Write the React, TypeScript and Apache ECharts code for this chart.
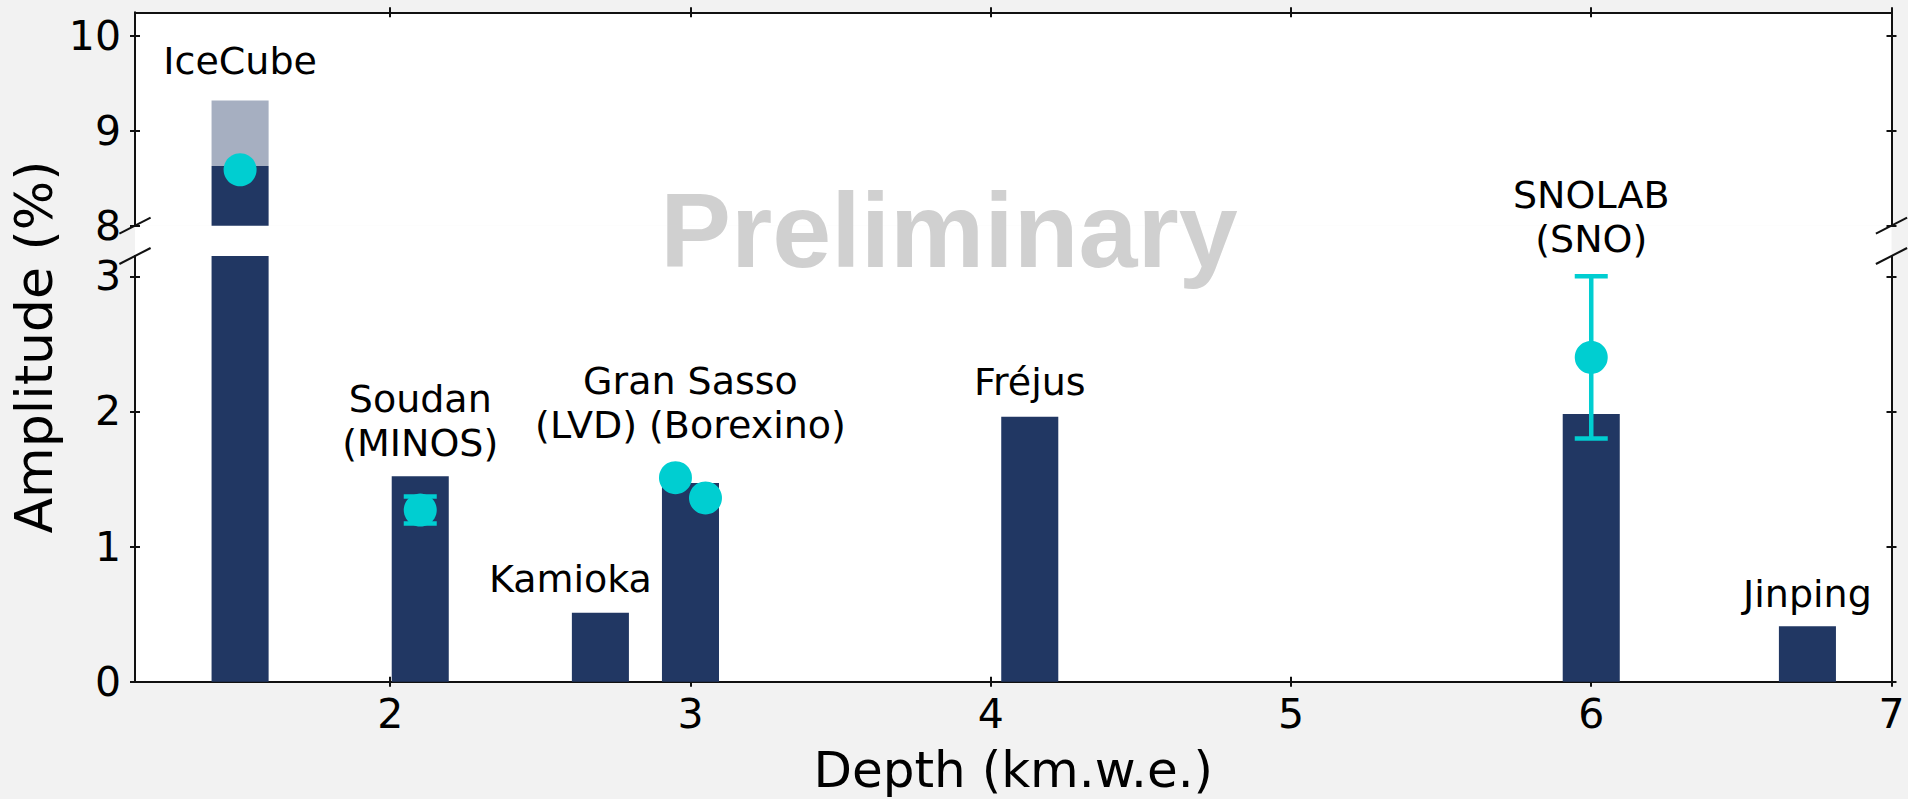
import React, { useEffect, useRef } from "react";
import * as echarts from "echarts";

// ---------- data ----------
const siteLabels = [
  "IceCube",
  "Soudan\n(MINOS)",
  "Kamioka",
  "Gran Sasso\n(LVD) (Borexino)",
  "Fréjus",
  "SNOLAB\n(SNO)",
  "Jinping",
];
const barDepths = [1.5, 2.1, 2.7, 3.0, 4.13, 6.0, 6.72];
const barAmplitudes = [8.63, 1.52, 0.51, 1.47, 1.96, 1.98, 0.41];

// IceCube uncertainty band (lighter part of bar)
const bandDepths = [1.5];
const bandLow = [8.63];
const bandHigh = [9.32];

// measured points
const pointDepths = [1.5, 2.1, 2.95, 3.05, 6.0];
const pointValues = [8.59, 1.27, 1.51, 1.36, 2.4];
const pointErrors = [0, 0.1, 0, 0, 0.6];

// label anchors (data coords, centre of text block)
const labelDepths = [1.5, 2.1, 2.6, 3.0, 4.13, 6.0, 6.72];
const labelHeights = [9.74, 1.93, 0.76, 2.06, 2.22, 3.44, 0.65];

const xTicks = [2, 3, 4, 5, 6, 7];
const yTicksTop = [8, 9, 10];
const yTicksBottom = [0, 1, 2, 3];
const X_MIN = 1.15;
const X_MAX = 7;
const TOP_MIN = 8;
const TOP_MAX = 10.25;
const BOT_MIN = 0;
const BOT_MAX = 3.15;

// ---------- layout / style ----------
const PL = 135;
const PR = 1891.5;
const TOP_T = 12.3;
const TOP_B = 225.7;
const BOT_T = 256;
const BOT_B = 681.7;
const BAR_W = 0.19;
const NAVY = "#213763";
const CYAN = "#00CED1";
const FONT = "DejaVu Sans";

function barRender(fill: string) {
  return (params: any, api: any) => {
    const x = api.value(0);
    const lo = api.value(1);
    const hi = api.value(2);
    const a = api.coord([x - BAR_W / 2, hi]);
    const b = api.coord([x + BAR_W / 2, lo]);
    const cs = params.coordSys;
    const rect = echarts.graphic.clipRectByRect(
      { x: a[0], y: a[1], width: b[0] - a[0], height: b[1] - a[1] },
      { x: cs.x, y: cs.y, width: cs.width, height: cs.height }
    );
    if (!rect) return null;
    return { type: "rect", shape: rect, style: { fill } };
  };
}

function errRender(params: any, api: any) {
  const x = api.value(0);
  const y = api.value(1);
  const e = api.value(2);
  const top = api.coord([x, y + e]);
  const bot = api.coord([x, y - e]);
  const half = 16.5;
  const st = { stroke: CYAN, lineWidth: 4.5 };
  return {
    type: "group",
    children: [
      { type: "line", shape: { x1: top[0], y1: top[1], x2: bot[0], y2: bot[1] }, style: st },
      { type: "line", shape: { x1: top[0] - half, y1: top[1], x2: top[0] + half, y2: top[1] }, style: st },
      { type: "line", shape: { x1: bot[0] - half, y1: bot[1], x2: bot[0] + half, y2: bot[1] }, style: st },
    ],
  };
}

function labelRender(params: any, api: any) {
  const p = api.coord([api.value(0), api.value(1)]);
  const idx = api.value(2);
  return {
    type: "text",
    x: p[0],
    y: p[1],
    style: {
      text: siteLabels[idx],
      fill: "#000",
      fontSize: 38,
      fontFamily: FONT,
      align: "center",
      verticalAlign: "middle",
      lineHeight: 44,
    },
  };
}

const tickStyle = { color: "#111", width: 2 };

function xAxes(gridIndex: number, position: "top" | "bottom", labels: boolean) {
  const common = {
    type: "value",
    gridIndex,
    position,
    min: X_MIN,
    max: X_MAX,
    splitLine: { show: false },
  };
  return [
    {
      ...common,
      axisLine: { show: true, onZero: false, lineStyle: { color: "#111", width: 2 } },
      axisTick: { show: true, inside: false, length: 5, customValues: xTicks, lineStyle: tickStyle },
      axisLabel: labels
        ? { show: true, customValues: xTicks, fontSize: 41, fontFamily: FONT, color: "#000", margin: 12 }
        : { show: false },
    },
    {
      ...common,
      axisLine: { show: false, onZero: false },
      axisTick: { show: true, inside: true, length: 5, customValues: xTicks, lineStyle: tickStyle },
      axisLabel: { show: false },
    },
  ];
}

function yAxes(gridIndex: number, min: number, max: number, ticks: number[]) {
  const common = {
    type: "value",
    gridIndex,
    min,
    max,
    splitLine: { show: false },
  };
  const tick = (inside: boolean) => ({ show: true, inside, length: 5, customValues: ticks, lineStyle: tickStyle });
  const line = { show: true, onZero: false, lineStyle: { color: "#111", width: 2 } };
  return [
    {
      ...common,
      position: "left",
      axisLine: line,
      axisTick: tick(false),
      axisLabel: { show: true, customValues: ticks, fontSize: 41, fontFamily: FONT, color: "#000", margin: 14 },
    },
    { ...common, position: "left", axisLine: { show: false }, axisTick: tick(true), axisLabel: { show: false } },
    { ...common, position: "right", axisLine: line, axisTick: tick(false), axisLabel: { show: false } },
    { ...common, position: "right", axisLine: { show: false }, axisTick: tick(true), axisLabel: { show: false } },
  ];
}

function breakLines() {
  const els: any[] = [];
  [PL, PR].forEach((x) => {
    [TOP_B, BOT_T].forEach((y) => {
      els.push({
        type: "line",
        z: 100,
        shape: { x1: x - 15.6, y1: y + 8, x2: x + 15.6, y2: y - 8 },
        style: { stroke: "#111", lineWidth: 2 },
      });
    });
  });
  return els;
}

export default function App() {
  const ref = useRef<HTMLDivElement>(null);

  useEffect(() => {
    const chart = echarts.init(ref.current!, null, { renderer: "svg" });

    const barData = barDepths.map((d, i) => [d, 0, barAmplitudes[i]]);
    const bandData = bandDepths.map((d, i) => [d, bandLow[i], bandHigh[i]]);
    const topPts = pointDepths.map((d, i) => [d, pointValues[i]]).filter((p) => p[1] >= TOP_MIN);
    const botPts = pointDepths.map((d, i) => [d, pointValues[i]]).filter((p) => p[1] < TOP_MIN);
    const errData = pointDepths
      .map((d, i) => [d, pointValues[i], pointErrors[i]])
      .filter((p) => p[2] > 0);
    const topLabels = labelDepths.map((d, i) => [d, labelHeights[i], i]).filter((p) => p[1] >= TOP_MIN);
    const botLabels = labelDepths.map((d, i) => [d, labelHeights[i], i]).filter((p) => p[1] < TOP_MIN);

    const option: any = {
      animation: false,
      backgroundColor: "#f2f2f2",
      grid: [
        { left: PL, top: TOP_T, width: PR - PL, height: TOP_B - TOP_T, show: true, backgroundColor: "#fff", borderWidth: 0, containLabel: false, outerBoundsMode: "none" },
        { left: PL, top: BOT_T, width: PR - PL, height: BOT_B - BOT_T, show: true, backgroundColor: "#fff", borderWidth: 0, containLabel: false, outerBoundsMode: "none" },
      ],
      xAxis: [...xAxes(0, "top", false), ...xAxes(1, "bottom", true)],
      yAxis: [...yAxes(0, TOP_MIN, TOP_MAX, yTicksTop), ...yAxes(1, BOT_MIN, BOT_MAX, yTicksBottom)],
      series: [
        // top panel
        { type: "custom", xAxisIndex: 0, yAxisIndex: 0, renderItem: barRender(NAVY), data: barData, encode: { x: 0, y: [1, 2] }, z: 2 },
        { type: "custom", xAxisIndex: 0, yAxisIndex: 0, renderItem: barRender("rgba(33,55,99,0.4)"), data: bandData, encode: { x: 0, y: [1, 2] }, z: 2 },
        { type: "custom", xAxisIndex: 0, yAxisIndex: 0, renderItem: errRender, data: errData.filter((p) => p[1] >= TOP_MIN), encode: { x: 0, y: 1 }, z: 3 },
        { type: "scatter", xAxisIndex: 0, yAxisIndex: 0, data: topPts, symbolSize: 33, itemStyle: { color: CYAN, opacity: 1 }, z: 4 },
        { type: "custom", xAxisIndex: 0, yAxisIndex: 0, renderItem: labelRender, data: topLabels, encode: { x: 0, y: 1 }, z: 5 },
        // bottom panel
        { type: "custom", xAxisIndex: 2, yAxisIndex: 4, renderItem: barRender(NAVY), data: barData, encode: { x: 0, y: [1, 2] }, z: 2 },
        { type: "custom", xAxisIndex: 2, yAxisIndex: 4, renderItem: errRender, data: errData.filter((p) => p[1] < TOP_MIN), encode: { x: 0, y: 1 }, z: 3 },
        { type: "scatter", xAxisIndex: 2, yAxisIndex: 4, data: botPts, symbolSize: 33, itemStyle: { color: CYAN, opacity: 1 }, z: 4 },
        { type: "custom", xAxisIndex: 2, yAxisIndex: 4, renderItem: labelRender, data: botLabels, encode: { x: 0, y: 1 }, z: 5 },
      ],
      graphic: [
        { type: "rect", z: -1, shape: { x: PL, y: TOP_B, width: PR - PL, height: BOT_T - TOP_B }, style: { fill: "#fff" } },
        ...breakLines(),
        {
          type: "text",
          z: 50,
          x: 949,
          y: 229.6,
          style: {
            text: "Preliminary",
            fill: "#d0d0d0",
            fontSize: 106,
            fontWeight: "bold",
            fontFamily: "Liberation Sans",
            align: "center",
            verticalAlign: "middle",
          },
        },
        {
          type: "text",
          z: 50,
          x: 34,
          y: 347,
          rotation: Math.PI / 2,
          style: {
            text: "Amplitude (%)",
            fill: "#000",
            fontSize: 52,
            fontFamily: FONT,
            align: "center",
            verticalAlign: "middle",
          },
        },
        {
          type: "text",
          z: 50,
          x: (PL + PR) / 2,
          y: 770,
          style: {
            text: "Depth (km.w.e.)",
            fill: "#000",
            fontSize: 50,
            fontFamily: FONT,
            align: "center",
            verticalAlign: "middle",
          },
        },
      ],
    };

    chart.setOption(option);
    return () => chart.dispose();
  }, []);

  return <div ref={ref} style={{ position: "fixed", left: 0, top: 0, width: 1908, height: 799 }} />;
}
